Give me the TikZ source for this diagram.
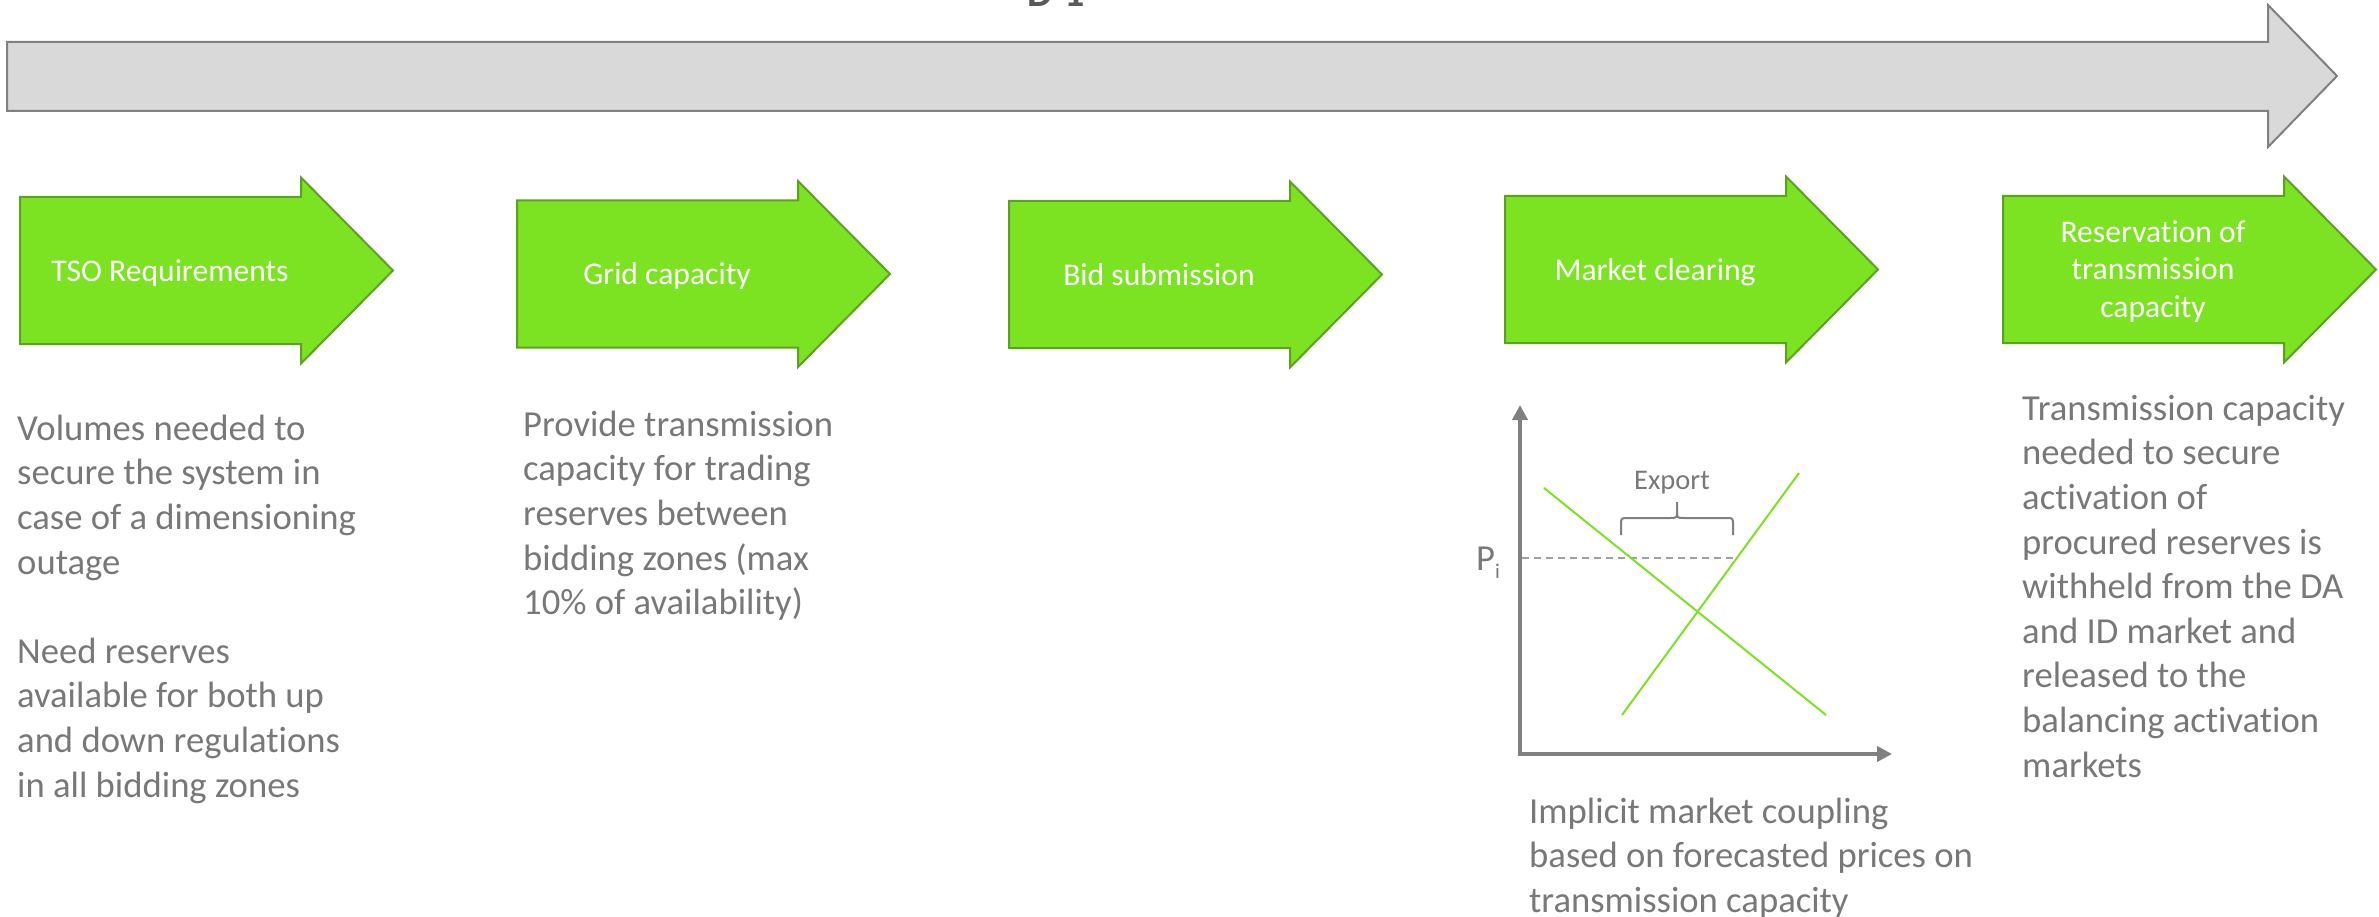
\documentclass[tikz,border=0pt]{standalone}
\usepackage{fontspec}
\setmainfont{Carlito}[Ligatures={NoCommon,NoRare,NoContextual}]
\usetikzlibrary{arrows.meta}
\definecolor{gfill}{RGB}{124,227,34}
\definecolor{gline}{RGB}{92,162,30}
\definecolor{txtgray}{RGB}{120,120,120}
\definecolor{axgray}{RGB}{128,128,128}
\definecolor{dashgray}{RGB}{160,160,160}
\definecolor{tlfill}{RGB}{217,217,217}
\definecolor{tlline}{RGB}{128,128,128}
\definecolor{dtitle}{RGB}{89,89,89}
\newcommand{\tinolig}{t\kern0pt i}
\newcommand{\grarrow}[2]{%
  \draw[stepshape] (#1,#2) -- ++(281,0) -- ++(0,-19.5) -- ++(92,93) -- ++(-92,93) -- ++(0,-19.5) -- ++(-281,0) -- cycle;}
\begin{document}
\begin{tikzpicture}[x=1pt,y=-1pt,
  stepshape/.style={fill=gfill, draw=gline, line width=2pt, line join=miter},
  steplabel/.style={text=white, inner sep=0, font=\fontsize{31.6}{37.5}\selectfont, align=center},
  bodytext/.style={text=txtgray, inner sep=0, anchor=north west, align=left, font=\fontsize{36.65}{44.6}\selectfont},
  axis/.style={draw=axgray, line width=4pt, {Triangle[length=15pt,width=15pt]}-{Triangle[length=15pt,width=15pt]}},
  curve/.style={draw=gfill, line width=2pt},
  bracestyle/.style={draw=axgray, line width=2pt},
  dashline/.style={draw=dashgray, line width=2pt, dash pattern=on 7pt off 5pt}]
\useasboundingbox (0,0) rectangle (2379,917);
\clip (0,0) rectangle (2379,917);

% title (cut off at top)
\node[anchor=base west, inner sep=0, text=dtitle, font=\fontsize{40}{40}\selectfont\bfseries] (title) at (1027,7) {D-1};

% timeline arrow
\draw[fill=tlfill, draw=tlline, line width=2pt] (7,42) -- (2268,42) -- (2268,5) -- (2337,76) -- (2268,147) -- (2268,111) -- (7,111) -- cycle;

% green step arrows
\grarrow{20}{197}
\grarrow{517}{200.5}
\grarrow{1009}{201}
\grarrow{1505}{196}
\grarrow{2003}{196}

\node[steplabel, anchor=base] (l1) at (170,281) {TSO Requirements};
\node[steplabel, anchor=base] (l2) at (667,284.5) {Grid capacity};
\node[steplabel, anchor=base] (l3) at (1159,285) {Bid submission};
\node[steplabel, anchor=base] (l4) at (1655,280) {Market clearing};
\node[steplabel, anchor=north] (l5) at (2153,213.6) {\rule{0pt}{28.4pt}Reserva\tinolig on of\\transmission\\capacity};

% body texts
\node[bodytext] (t1) at (17,407) {\rule{0pt}{33pt}Volumes needed to\\secure the system in\\case of a dimensioning\\outage\\[44.6pt]Need reserves\\available for both up\\and down regulations\\in all bidding zones};
\node[bodytext] (t2) at (523,403) {\rule{0pt}{33pt}Provide transmission\\capacity for trading\\reserves between\\bidding zones (max\\10\% of availability)};
\node[bodytext] (t5) at (2022,387) {\rule{0pt}{33pt}Transmission capacity\\needed to secure\\activa\tinolig on of\\procured reserves is\\withheld from the DA\\and ID market and\\released to the\\balancing activa\tinolig on\\markets};
\node[bodytext] (t4) at (1529,790) {\rule{0pt}{33pt}Implicit market coupling\\based on forecasted prices on\\transmission capacity};

% chart
\draw[axis] (1520,405) -- (1520,754) -- (1892,754);
\draw[dashline] (1522,558) -- (1733,558);
\draw[curve] (1544,488) -- (1826,715);
\draw[curve] (1622,715) -- (1799,473);
\draw[bracestyle] (1621,535) -- (1621,525) .. controls (1621,518) .. (1628,518) -- (1670,518) .. controls (1677,518) .. (1677,511) -- (1677,502);
\draw[bracestyle] (1677,511) .. controls (1677,518) .. (1684,518) -- (1726,518) .. controls (1733,518) .. (1733,525) -- (1733,535);
\node[text=txtgray, font=\fontsize{28.5}{34}\selectfont, anchor=base, inner sep=0] (export) at (1672,489) {Export};
\node[anchor=base west, inner sep=0, text=txtgray, font=\fontsize{36.65}{44}\selectfont] (pi) at (1476,570) {P\raisebox{-8pt}{\fontsize{21}{21}\selectfont i}};
\end{tikzpicture}
\end{document}
